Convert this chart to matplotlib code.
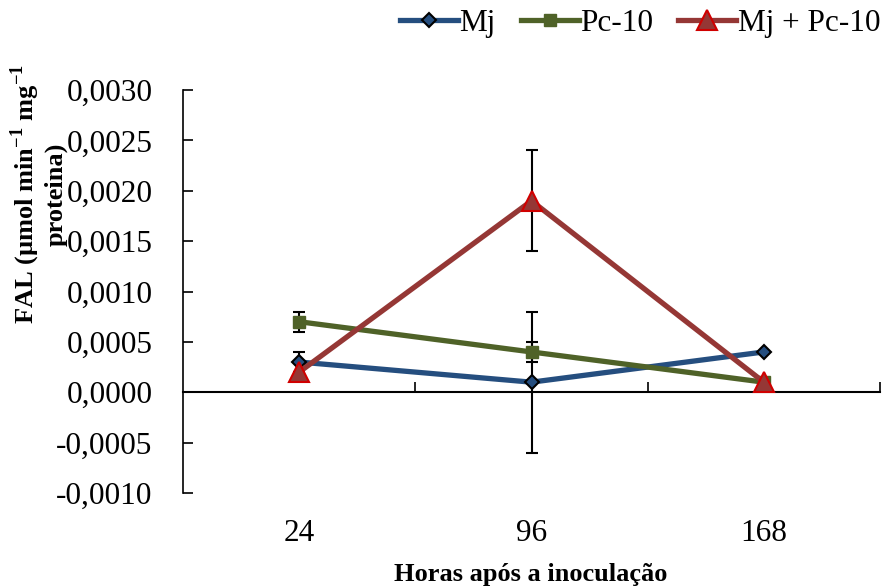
import matplotlib
matplotlib.use("Agg")
import matplotlib.pyplot as plt
import matplotlib.transforms as mtransforms
from matplotlib.lines import Line2D

plt.rcParams['font.family'] = ['Liberation Serif', 'DejaVu Serif']
plt.rcParams['mathtext.fontset'] = 'custom'
plt.rcParams['mathtext.rm'] = 'Liberation Serif'
plt.rcParams['mathtext.bf'] = 'Liberation Serif:bold'

categories = ["24", "96", "168"]
mj = [0.0003, 0.0001, 0.0004]
mj_err = [0.0001, 0.0007, 0.0]
pc10 = [0.0007, 0.0004, 0.0001]
pc10_err = [0.0001, 0.0001, 0.0]
mjpc = [0.0002, 0.0019, 0.0001]
mjpc_err = [0.0, 0.0005, 0.0]
yticks = [-0.0010, -0.0005, 0.0, 0.0005, 0.0010, 0.0015, 0.0020, 0.0025, 0.0030]

fig = plt.figure(figsize=(8.83, 5.86), dpi=100)
ax = fig.add_axes([183/883, 93/586, 697/883, 403/586])

x = list(range(1, len(categories) + 1))

series = [
    ("Mj", mj, mj_err, dict(color="#254E7F", marker="D", markersize=7, markerfacecolor="#254E7F",
                             markeredgecolor="black", markeredgewidth=1.5)),
    ("Pc-10", pc10, pc10_err, dict(color="#4F6228", marker="s", markersize=9, markerfacecolor="#4F6228",
                                   markeredgecolor="#4F6228")),
    ("Mj + Pc-10", mjpc, mjpc_err, dict(color="#953735", marker="^", markersize=15, markerfacecolor="#953735",
                                        markeredgecolor="#D00000", markeredgewidth=1.5)),
]
handles = []
for name, vals, errs, st in series:
    ax.errorbar(x, vals, yerr=errs, ecolor="black", elinewidth=1.5, capsize=4.5, capthick=1.5,
                linewidth=3.8, zorder=3, **st)
    handles.append(Line2D([], [], linewidth=3.8, label=name, **st))

ax.set_xlim(0.5, 3.5)
ax.set_ylim(-0.0010, 0.0030)
ax.set_yticks(yticks)
ax.set_yticklabels([("%.4f" % v).replace(".", ",") for v in yticks], fontsize=22.5)
ax.set_xticks([1.5, 2.5, 3.5])
ax.set_xticklabels([])
ax.tick_params(axis='y', direction='in', length=7, width=1.2, pad=22)
ax.tick_params(axis='x', direction='in', length=7, width=1.2)

for s in ['top', 'right']:
    ax.spines[s].set_visible(False)
ax.spines['bottom'].set_position(('data', 0))
ax.spines['bottom'].set_linewidth(1.5)
ax.spines['left'].set_linewidth(1.2)

trans = mtransforms.blended_transform_factory(ax.transData, ax.transAxes)
for xi, c in zip(x, categories):
    ax.text(xi, -0.10, c, transform=trans, ha='center', va='center', fontsize=22.5)

fig.text(0.601, 0.019, "Horas após a inoculação", ha='center', va='center', fontsize=19, fontweight='bold')
fig.text(0.029, 0.669, r"FAL (µmol min$^{\mathbf{-1}}$ mg$^{\mathbf{-1}}$", rotation=90, ha='center', va='center',
         fontsize=19, fontweight='bold')
fig.text(0.063, 0.669, "proteina)", rotation=90, ha='center', va='center', fontsize=19, fontweight='bold')

ax.legend(handles=handles, loc='center right', bbox_to_anchor=(1.0, 1.165), ncol=3, frameon=False, fontsize=22.5,
          handlelength=1.85, columnspacing=0.8, handletextpad=0.05, borderaxespad=0, borderpad=0)

fig.savefig("out.png", dpi=100)
